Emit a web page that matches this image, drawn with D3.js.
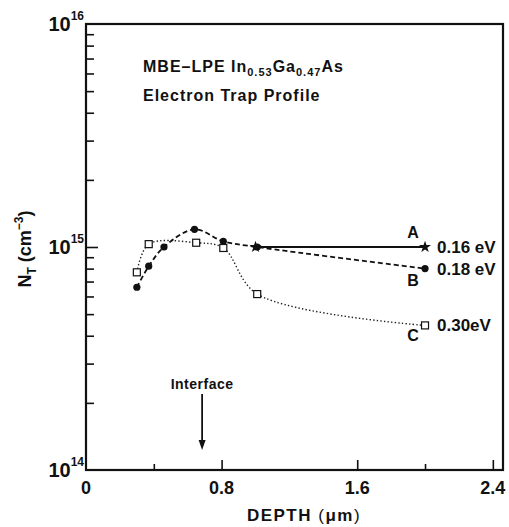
<!DOCTYPE html>
<html>
<head>
<meta charset="utf-8">
<script src="https://cdn.jsdelivr.net/npm/d3@7/dist/d3.min.js"></script>
<style>
  body { margin: 0; background: #fff; }
  text { font-family: "Liberation Sans", Arial, sans-serif; font-weight: bold; fill: #111; }
</style>
</head>
<body>
<div id="chart"></div>
<script>
// Data: depth (um) vs trap density (cm^-3)
var depthA = [1.0, 2.0]
var valuesA = [1.0e15, 1.0e15]
var depthB = [0.30, 0.37, 0.46, 0.64, 0.81, 1.01, 2.0]
var valuesB = [6.6e14, 8.2e14, 1.0e15, 1.2e15, 1.06e15, 1.0e15, 8.0e14]
var depthC = [0.30, 0.37, 0.65, 0.81, 1.01, 2.0]
var valuesC = [7.7e14, 1.03e15, 1.045e15, 0.99e15, 6.15e14, 4.45e14]
var seriesNames = ['A', 'B', 'C']
var seriesEnergies = ['0.16 eV', '0.18 eV', '0.30eV']
var xTickValues = [0, 0.8, 1.6, 2.4]
var xMinorTicks = [0.4, 2.0]
var yTickExponents = [14, 15, 16]
var interfaceDepth = 0.685

var width = 509, height = 527

var x = d3.scaleLinear().domain([0, 2.46]).range([86, 503])
var y = d3.scaleLog().domain([1e14, 1e16]).range([470, 24])

var svg = d3.select('#chart').append('svg')
  .attr('width', width)
  .attr('height', height)

// Minor y ticks (2..9 per decade)
var yMinor = []
for (var e = 14; e < 16; e++) {
  for (var m = 2; m <= 9; m++) yMinor.push(m * Math.pow(10, e))
}

var yAxis = d3.axisRight(y)
  .tickValues(yMinor)
  .tickSize(8)
  .tickFormat('')
svg.append('g')
  .attr('class', 'axis axis--y')
  .attr('transform', 'translate(' + x(0) + ',0)')
  .call(yAxis)

var yMajor = d3.axisRight(y)
  .tickValues([1e15])
  .tickSize(12)
  .tickFormat('')
svg.append('g')
  .attr('transform', 'translate(' + x(0) + ',0)')
  .call(yMajor)

var xAxis = d3.axisTop(x)
  .tickValues(xTickValues.slice(1))
  .tickSize(10)
  .tickFormat('')
svg.append('g')
  .attr('class', 'axis axis--x')
  .attr('transform', 'translate(0,' + y(1e14) + ')')
  .call(xAxis)

var xMinor = d3.axisTop(x)
  .tickValues(xMinorTicks)
  .tickSize(6)
  .tickFormat('')
svg.append('g')
  .attr('transform', 'translate(0,' + y(1e14) + ')')
  .call(xMinor)

svg.selectAll('.domain').remove()
svg.selectAll('.tick line')
  .attr('stroke', '#111')
  .attr('stroke-width', 1.6)

// Frame
svg.append('rect')
  .attr('x', x(0))
  .attr('y', y(1e16))
  .attr('width', x(2.46) - x(0))
  .attr('height', y(1e14) - y(1e16))
  .attr('fill', 'none')
  .attr('stroke', '#111')
  .attr('stroke-width', 2.2)

// x tick labels
svg.selectAll('.xlab')
  .data(xTickValues)
  .enter().append('text')
    .attr('x', function(d) { return x(d) })
    .attr('y', 494)
    .attr('text-anchor', 'middle')
    .style('font-size', '18px')
    .text(function(d) { return d === 0 ? '0' : d.toFixed(1) })

// y tick labels 10^n
yTickExponents.forEach(function(ex) {
  var t = svg.append('text')
    .attr('x', x(0) - 2)
    .attr('y', y(Math.pow(10, ex)) + 7)
    .attr('text-anchor', 'end')
    .style('font-size', '20px')
  t.append('tspan').text('10')
  t.append('tspan')
    .attr('dy', -11)
    .style('font-size', '12px')
    .text(ex)
})

// Axis titles
var xt = svg.append('text')
  .attr('x', 304)
  .attr('y', 521)
  .attr('text-anchor', 'middle')
  .style('font-size', '17px')
  .style('letter-spacing', '1.5px')
xt.append('tspan').text('DEPTH ')
xt.append('tspan').style('font-weight', 'normal').text('(')
xt.append('tspan').text('\u03bcm')
xt.append('tspan').style('font-weight', 'normal').text(')')

var yt = svg.append('text')
  .attr('transform', 'translate(31,249) rotate(-90)')
  .attr('text-anchor', 'middle')
  .style('font-size', '18px')
yt.append('tspan').text('N')
yt.append('tspan').attr('dy', 5).style('font-size', '12px').text('T')
yt.append('tspan').attr('dy', -5).text(' (cm')
yt.append('tspan').attr('dy', -8).style('font-size', '12px').text('\u22123')
yt.append('tspan').attr('dy', 8).text(')')

// Title
var t1 = svg.append('text')
  .attr('x', 143)
  .attr('y', 72)
  .style('font-size', '16px')
  .style('letter-spacing', '1px')
t1.append('tspan').text('MBE\u2013LPE  In')
t1.append('tspan').attr('dy', 4).style('font-size', '11px').text('0.53')
t1.append('tspan').attr('dy', -4).text('Ga')
t1.append('tspan').attr('dy', 4).style('font-size', '11px').text('0.47')
t1.append('tspan').attr('dy', -4).text('As')

svg.append('text')
  .attr('x', 143)
  .attr('y', 101)
  .style('font-size', '16px')
  .style('letter-spacing', '1px')
  .text('Electron  Trap  Profile')

// Curves
var line = d3.line()
  .x(function(d) { return x(d[0]) })
  .y(function(d) { return y(d[1]) })
  .curve(d3.curveCatmullRom.alpha(0.5))

var dataA = d3.zip(depthA, valuesA)
var dataB = d3.zip(depthB, valuesB)
var dataC = d3.zip(depthC, valuesC)

svg.append('path')
  .datum(dataC)
  .attr('fill', 'none')
  .attr('stroke', '#222')
  .attr('stroke-width', 1.4)
  .attr('stroke-dasharray', '1.4,2.2')
  .attr('d', line)

svg.append('path')
  .datum(dataB)
  .attr('fill', 'none')
  .attr('stroke', '#111')
  .attr('stroke-width', 1.8)
  .attr('stroke-dasharray', '5,3')
  .attr('d', line)

svg.append('path')
  .datum(dataA)
  .attr('fill', 'none')
  .attr('stroke', '#111')
  .attr('stroke-width', 1.8)
  .attr('d', line)

// Markers
svg.selectAll('.mc')
  .data(dataC)
  .enter().append('rect')
    .attr('x', function(d) { return x(d[0]) - 3.5 })
    .attr('y', function(d) { return y(d[1]) - 3.5 })
    .attr('width', 7)
    .attr('height', 7)
    .attr('fill', '#fff')
    .attr('stroke', '#111')
    .attr('stroke-width', 1.2)

svg.selectAll('.mb')
  .data(dataB)
  .enter().append('circle')
    .attr('cx', function(d) { return x(d[0]) })
    .attr('cy', function(d) { return y(d[1]) })
    .attr('r', 3.6)
    .attr('fill', '#111')

svg.selectAll('.ma')
  .data(dataA)
  .enter().append('path')
    .attr('transform', function(d) { return 'translate(' + x(d[0]) + ',' + y(d[1]) + ')' })
    .attr('d', d3.symbol().type(d3.symbolStar).size(45))
    .attr('fill', '#111')

// Series labels
var ends = [dataA[dataA.length - 1], dataB[dataB.length - 1], dataC[dataC.length - 1]]
var letterDy = [-9, 17, 16]
ends.forEach(function(d, i) {
  svg.append('text')
    .attr('x', x(d[0]) - 12)
    .attr('y', y(d[1]) + letterDy[i])
    .attr('text-anchor', 'middle')
    .style('font-size', '16px')
    .text(seriesNames[i])
  svg.append('text')
    .attr('x', x(d[0]) + 12)
    .attr('y', y(d[1]) + 6)
    .style('font-size', '17px')
    .text(seriesEnergies[i])
})

// Interface arrow
svg.append('text')
  .attr('x', x(interfaceDepth))
  .attr('y', 389)
  .attr('text-anchor', 'middle')
  .style('font-size', '14px')
  .style('letter-spacing', '0.5px')
  .text('Interface')

svg.append('line')
  .attr('x1', x(interfaceDepth))
  .attr('x2', x(interfaceDepth))
  .attr('y1', 394)
  .attr('y2', 442)
  .attr('stroke', '#111')
  .attr('stroke-width', 1.8)

svg.append('path')
  .attr('d', 'M' + (x(interfaceDepth) - 3.5) + ',440 L' + (x(interfaceDepth) + 3.5) + ',440 L' + x(interfaceDepth) + ',450 Z')
  .attr('fill', '#111')
</script>
</body>
</html>
